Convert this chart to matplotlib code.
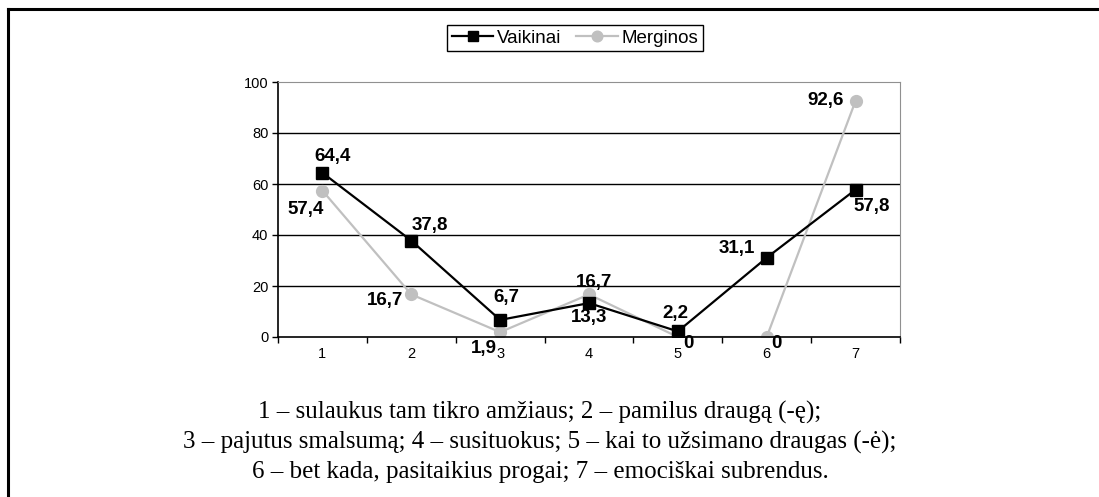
import matplotlib
matplotlib.use("Agg")
import matplotlib.pyplot as plt
from matplotlib.lines import Line2D

categories = ["1", "2", "3", "4", "5", "6", "7"]
vaikinai = [64.4, 37.8, 6.7, 13.3, 2.2, 31.1, 57.8]
merginos = [57.4, 16.7, 1.9, 16.7, 0, 0, 92.6]
series_names = ["Vaikinai", "Merginos"]
caption = [
    "1 \u2013 sulaukus tam tikro am\u017eiaus; 2 \u2013 pamilus draug\u0105 (-\u0119);",
    "3 \u2013 pajutus smalsum\u0105; 4 \u2013 susituokus; 5 \u2013 kai to u\u017esimano draugas (-\u0117);",
    "6 \u2013 bet kada, pasitaikius progai; 7 \u2013 emoci\u0161kai subrendus.",
]

# label offsets in pixels (dx, dy) relative to the point
off_v = [(10, 16), (19, 15), (6, 22), (0, -14), (-2, 18), (-30, 9), (16, -17)]
off_m = [(-17, -19), (-26, -6), (-16, -16), (5, 12), (11, -6), (10, -6), (-30, 0)]

W, H = 1099, 497
fig = plt.figure(figsize=(W / 100, H / 100), dpi=100)

# outer frame (top and left visible)
fig.add_artist(Line2D([8 / W, 1099 / W], [1 - 8.5 / H, 1 - 8.5 / H], color="black", lw=2.2,
                      transform=fig.transFigure))
fig.add_artist(Line2D([8 / W, 8 / W], [0, 1 - 8.5 / H], color="black", lw=2.2,
                      transform=fig.transFigure))

ax = fig.add_axes([278 / W, (H - 337) / H, 622 / W, 255 / H])
x = list(range(len(categories)))
ax.plot(x, vaikinai, color="black", lw=1.6, marker="s", ms=8, label=series_names[0], zorder=3)
ax.plot(x, merginos, color="#c0c0c0", lw=1.6, marker="o", ms=8.5, label=series_names[1], zorder=2)

ax.set_xlim(-0.5, len(categories) - 0.5)
ax.set_ylim(0, 100)
ax.set_yticks(range(0, 101, 20))
ax.set_xticks(x)
ax.set_xticklabels(categories)
ax.set_xticks([i + 0.5 for i in range(-1, len(categories))], minor=True)
ax.tick_params(axis="x", which="major", length=0, pad=7, labelsize=10.5)
ax.tick_params(axis="x", which="minor", length=4, width=1, direction="out")
ax.tick_params(axis="y", length=4, width=1, direction="out", labelsize=10.5, pad=3)
for lab in ax.get_xticklabels() + ax.get_yticklabels():
    lab.set_fontfamily("Liberation Sans")

for y in range(20, 100, 20):
    ax.axhline(y, color="black", lw=1, zorder=1)
ax.spines["left"].set_color("black")
ax.spines["bottom"].set_color("black")
ax.spines["left"].set_linewidth(1.2)
ax.spines["bottom"].set_linewidth(1.2)
ax.spines["top"].set_color("#909090")
ax.spines["right"].set_color("#909090")

def fmt(v):
    s = ("%.1f" % v).replace(".", ",")
    return "0" if v == 0 else s

for i, v in enumerate(vaikinai):
    ax.annotate(fmt(v), (i, v), xytext=off_v[i], textcoords="offset pixels",
                ha="center", va="center", fontsize=13.5, fontweight="bold",
                family="Liberation Sans", zorder=5)
for i, v in enumerate(merginos):
    ax.annotate(fmt(v), (i, v), xytext=off_m[i], textcoords="offset pixels",
                ha="center", va="center", fontsize=13.5, fontweight="bold",
                family="Liberation Sans", zorder=5)

leg = fig.legend(loc="center", bbox_to_anchor=(575 / W, 1 - 38 / H), ncol=2,
                 frameon=True, fancybox=False, edgecolor="black", framealpha=1,
                 prop={"family": "Liberation Sans", "size": 13.5},
                 handlelength=2.2, handletextpad=0.2, columnspacing=0.8,
                 borderpad=0.25, markerscale=0.9)
leg.get_frame().set_linewidth(1)

for k, line in enumerate(caption):
    fig.text(540 / W, 1 - (412 + 30 * k) / H, line, ha="center", va="center",
             fontsize=18, family="Liberation Serif")

fig.savefig("out.png", dpi=100)
